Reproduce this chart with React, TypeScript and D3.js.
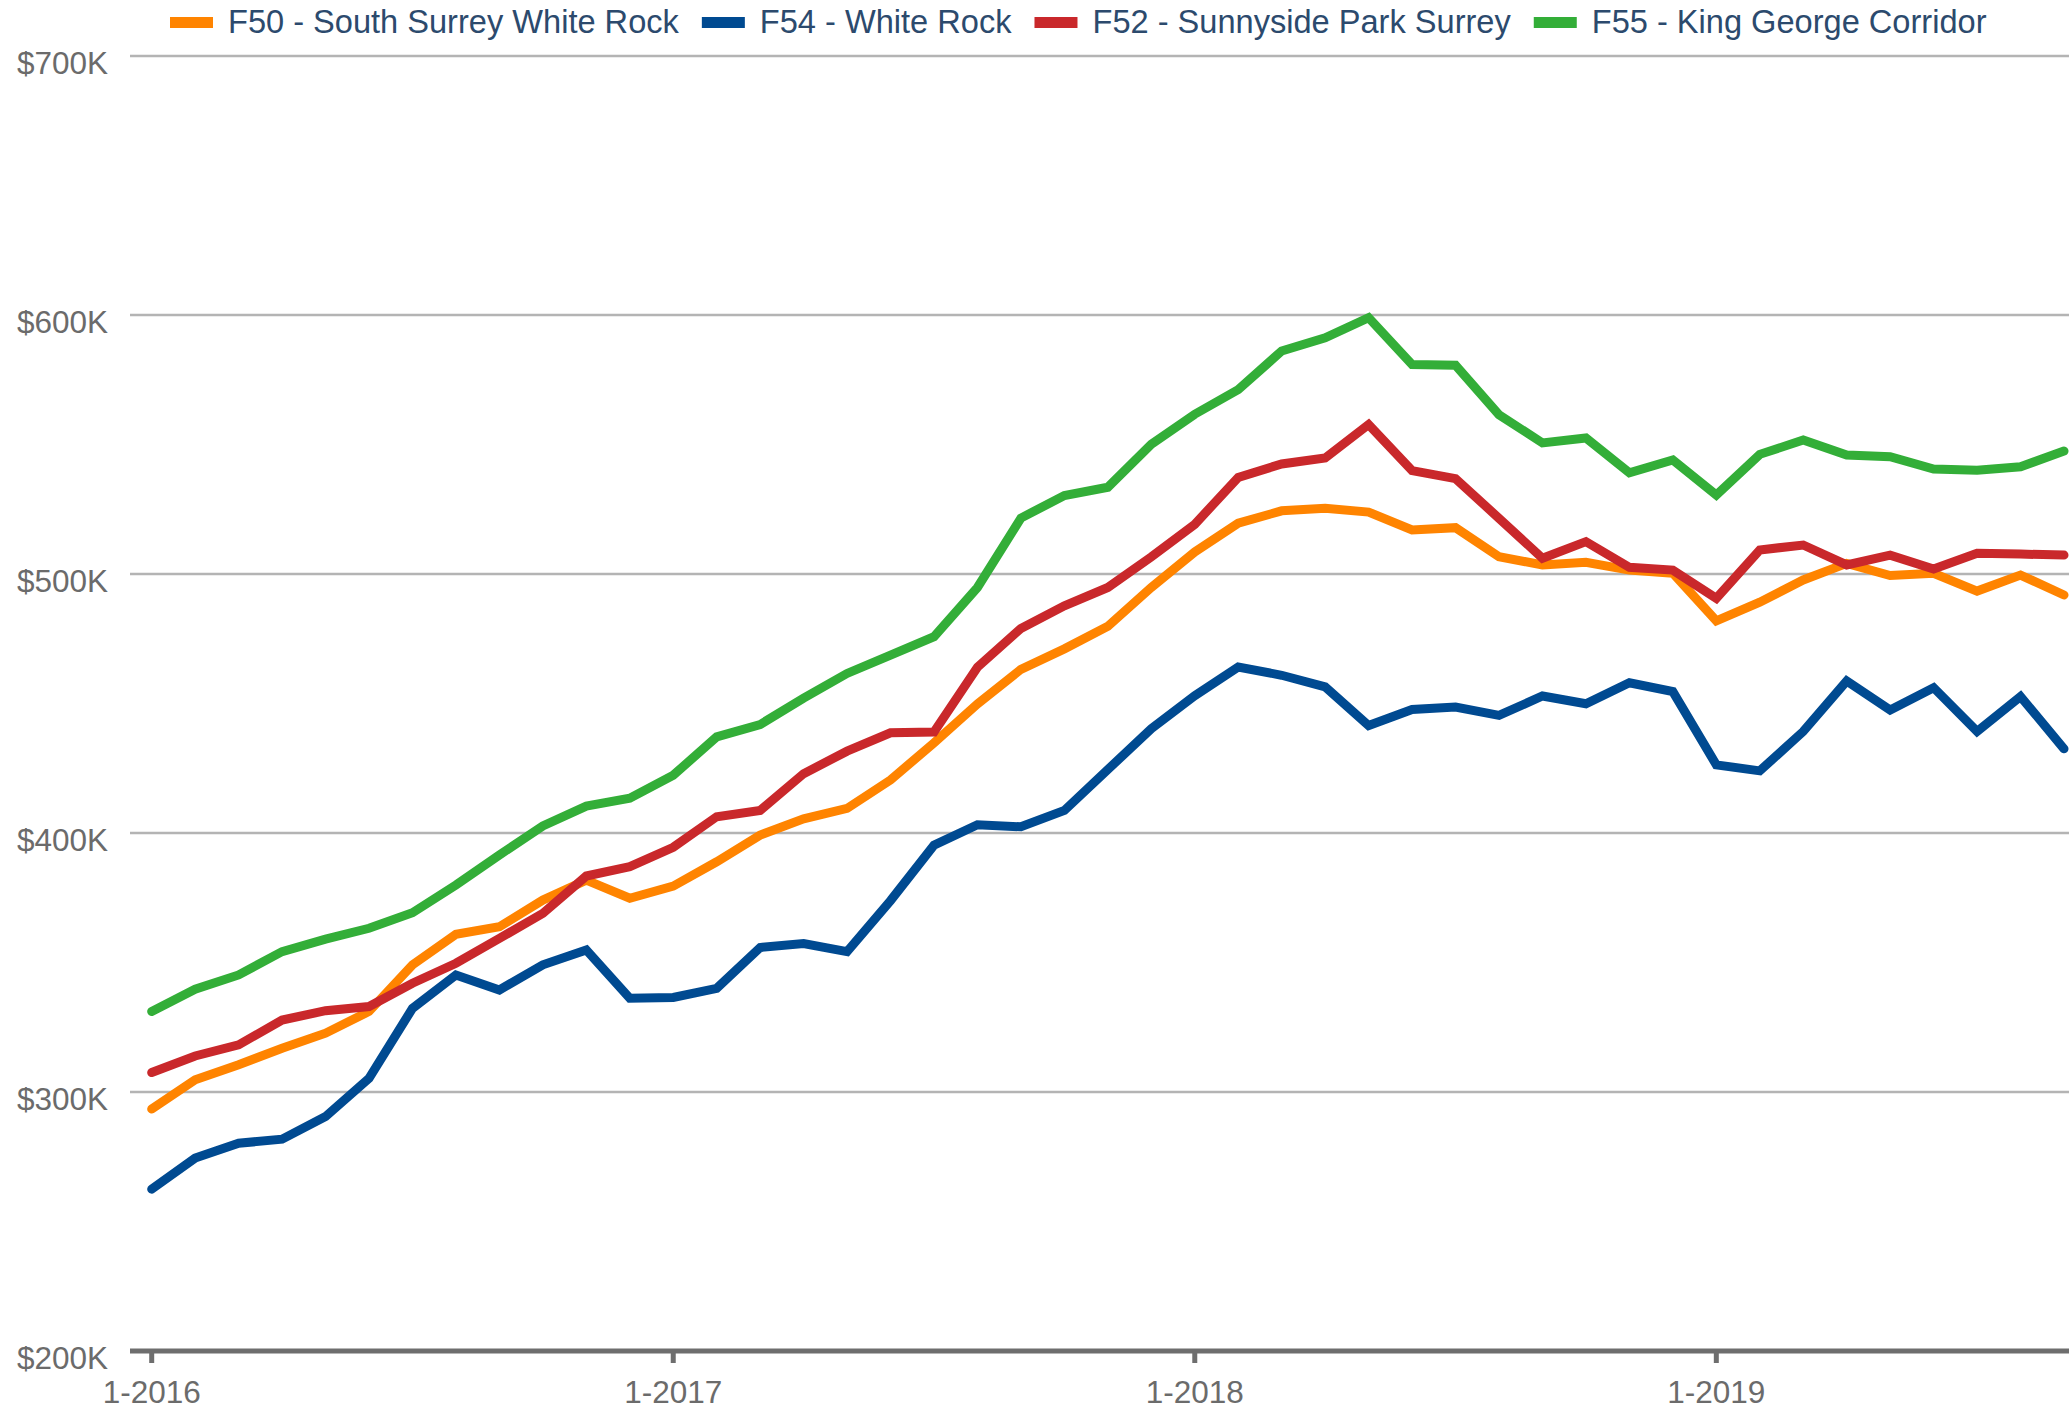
import { useEffect, useRef } from 'react'
import * as d3 from 'd3'

// 월별 중위가격 (단위: $K), 2016-01 ~ 2019-09
const YEARS = [2016, 2017, 2018, 2019]
const MONTHS = YEARS.flatMap((y) => d3.range(1, 13).map((m) => `${m}-${y}`)).slice(0, 45)
const X_TICKS = ['1-2016', '1-2017', '1-2018', '1-2019']
const Y_TICKS = [200, 300, 400, 500, 600, 700]

const F50 = [
  293.4, 304.7, 310.5, 316.9, 322.7, 331.1, 349.1, 360.9, 363.8, 374.1, 381.8, 374.8,
  379.5, 388.9, 399.2, 405.5, 409.5, 420.5, 434.8, 449.8, 463.2, 471.1, 479.8, 494.8,
  508.5, 519.6, 524.4, 525.4, 523.9, 517.0, 517.9, 506.7, 503.5, 504.5, 501.5, 500.3,
  481.9, 489.1, 497.7, 504.1, 499.4, 500.3, 493.4, 499.6, 491.9,
]
const F54 = [
  262.5, 274.5, 280.2, 281.8, 290.5, 305.3, 332.3, 345.2, 339.4, 349.1, 354.8, 336.2,
  336.5, 340.0, 355.8, 357.3, 354.2, 373.9, 395.3, 403.2, 402.4, 408.7, 424.5, 440.3,
  453.0, 464.1, 460.9, 456.4, 441.5, 447.7, 448.6, 445.4, 452.9, 449.9, 458.0, 454.6,
  426.3, 424.0, 439.2, 458.7, 447.5, 456.1, 439.2, 452.7, 432.5,
]
const F52 = [
  307.5, 313.9, 318.2, 327.8, 331.4, 333.0, 342.0, 349.7, 359.3, 369.0, 383.4, 387.0,
  394.5, 406.3, 408.7, 422.9, 431.6, 438.7, 439.0, 464.0, 479.0, 487.7, 494.8, 506.6,
  519.2, 537.3, 542.5, 544.8, 557.7, 539.9, 536.8, 521.5, 506.1, 512.5, 502.6, 501.5,
  490.6, 509.3, 511.2, 503.5, 507.3, 501.9, 508.0, 507.7, 507.3,
]
const F55 = [
  331.1, 339.7, 345.2, 354.2, 359.0, 363.2, 369.2, 379.9, 391.5, 402.7, 410.4, 413.4,
  422.3, 437.1, 441.9, 452.1, 461.6, 468.7, 475.8, 494.8, 521.6, 530.3, 533.5, 550.1,
  561.7, 571.2, 586.1, 591.2, 599.0, 580.9, 580.6, 561.5, 550.6, 552.5, 539.1, 544.0,
  530.5, 546.2, 551.7, 545.9, 545.3, 540.5, 540.1, 541.4, 547.5,
]

const SERIES = [
  { name: 'F50 - South Surrey White Rock', color: '#FF8400', values: F50 },
  { name: 'F54 - White Rock', color: '#004A91', values: F54 },
  { name: 'F52 - Sunnyside Park Surrey', color: '#C9282B', values: F52 },
  { name: 'F55 - King George Corridor', color: '#33AE38', values: F55 },
]
// 그리는 순서 (뒤 → 앞)
const DRAW_ORDER = [1, 0, 2, 3]

const W = 2069
const H = 1409
const PLOT_L = 130
const FONT = '"Liberation Sans", Arial, Helvetica, sans-serif'

export default function App() {
  const svgRef = useRef<SVGSVGElement>(null)

  useEffect(() => {
    document.body.style.margin = '0'
    const svg = d3.select(svgRef.current)
    svg.selectAll('*').remove()

    const x = d3.scalePoint<string>().domain(MONTHS).range([151.7, 2064])
    const y = d3.scaleLinear().domain([200, 700]).range([1351, 56])

    // ── 그리드 ──
    svg.append('g')
      .selectAll('line')
      .data(Y_TICKS.filter((t) => t > 200))
      .join('line')
      .attr('x1', PLOT_L).attr('x2', W)
      .attr('y1', (d) => y(d)).attr('y2', (d) => y(d))
      .attr('stroke', '#B4B4B4').attr('stroke-width', 2.5)

    // ── Y 라벨 ──
    svg.append('g')
      .selectAll('text')
      .data(Y_TICKS)
      .join('text')
      .attr('x', 108).attr('y', (d) => y(d) + 18)
      .attr('text-anchor', 'end')
      .attr('font-family', FONT).attr('font-size', 31.5).attr('fill', '#6B6B6B')
      .text((d) => `$${d}K`)

    // ── 선 ──
    const line = d3.line<number>()
      .x((_, i) => x(MONTHS[i]) ?? 0)
      .y((d) => y(d))

    DRAW_ORDER.forEach((k) => {
      const s = SERIES[k]
      svg.append('path')
        .datum(s.values)
        .attr('d', line)
        .attr('fill', 'none')
        .attr('stroke', s.color)
        .attr('stroke-width', 9)
        .attr('stroke-linejoin', 'miter')
        .attr('stroke-miterlimit', 3)
        .attr('stroke-linecap', 'round')
    })

    // ── X 축 ──
    const ax = svg.append('g').attr('transform', `translate(0,${y(200)})`)
    ax.append('line')
      .attr('x1', PLOT_L).attr('x2', W).attr('y1', 0).attr('y2', 0)
      .attr('stroke', '#6E6E6E').attr('stroke-width', 5)
    ax.selectAll('line.tick')
      .data(X_TICKS)
      .join('line')
      .attr('class', 'tick')
      .attr('x1', (d) => x(d) ?? 0).attr('x2', (d) => x(d) ?? 0)
      .attr('y1', 0).attr('y2', 12)
      .attr('stroke', '#6E6E6E').attr('stroke-width', 5)
    ax.selectAll('text')
      .data(X_TICKS)
      .join('text')
      .attr('x', (d) => x(d) ?? 0).attr('y', 52)
      .attr('text-anchor', 'middle')
      .attr('font-family', FONT).attr('font-size', 31.5).attr('fill', '#6B6B6B')
      .text((d) => d)

    // ── 범례 ──
    const leg = svg.append('g')
    let cx = 170
    SERIES.forEach((s) => {
      leg.append('rect')
        .attr('x', cx).attr('y', 17).attr('width', 43).attr('height', 11)
        .attr('fill', s.color)
      const t = leg.append('text')
        .attr('x', cx + 58).attr('y', 33)
        .attr('font-family', FONT).attr('font-size', 32.6).attr('fill', '#2C4A6D')
        .text(s.name)
      const tw = (t.node() as SVGTextElement).getComputedTextLength()
      cx = cx + 58 + tw + 23
    })
  }, [])

  return <svg ref={svgRef} width={W} height={H} style={{ display: 'block', background: '#fff' }} />
}
